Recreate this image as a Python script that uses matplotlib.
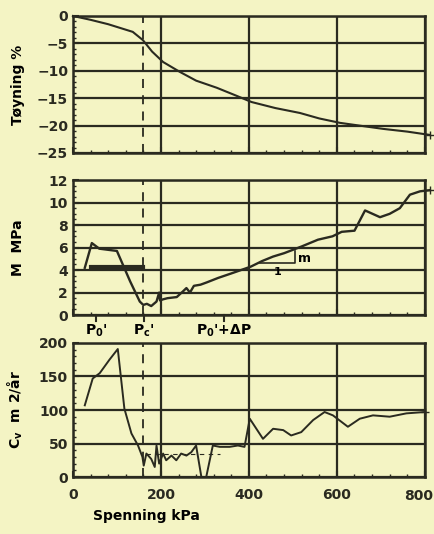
import numpy as np
import matplotlib
matplotlib.use("Agg")
import matplotlib.pyplot as plt
import matplotlib.transforms as mtransforms
from matplotlib.ticker import MultipleLocator

# toyning (strain) vs spenning
eps_x = [0, 40, 80, 120, 136, 159, 180, 205, 243, 280, 327, 370, 406, 460, 516, 560, 607, 660, 705, 760, 811]
eps_y = [0, -0.7, -1.5, -2.5, -2.9, -4.4, -6.5, -8.4, -10.2, -11.8, -13.1, -14.5, -15.7, -16.8, -17.7, -18.7, -19.5, -20.1, -20.6, -21.1, -21.7]

# modul M
m_x = [27, 43, 60, 100, 130, 152, 160, 168, 178, 190, 196, 198, 205, 215, 236, 250, 258, 266, 275, 290, 304, 330, 360,
       404, 430, 455, 480, 500, 520, 557, 590, 611, 640, 664, 698, 720, 743, 766, 789, 811]
m_y = [4.2, 6.4, 5.9, 5.7, 3.0, 1.2, 0.9, 1.0, 0.8, 1.2, 2.0, 1.3, 1.4, 1.5, 1.6, 2.1, 2.4, 2.0, 2.6, 2.7, 2.9, 3.3, 3.7,
       4.3, 4.8, 5.2, 5.5, 5.8, 6.1, 6.7, 7.0, 7.4, 7.5, 9.3, 8.7, 9.0, 9.5, 10.7, 11.0, 11.1]
m0_x = [40, 160]
m0_y = [4.3, 4.3]

# konsolideringskoeffisient cv
cv_x = [27, 45, 61, 83, 102, 117, 133, 148, 158, 161, 167, 178, 186, 190, 196, 205, 212, 224, 235, 246, 258, 269, 280,
        292, 303, 318, 334, 356, 375, 390, 402, 432, 455, 478, 496, 519, 546, 572, 591, 625, 652, 682, 720, 758, 800]
cv_y = [107, 147, 155, 175, 191, 102, 65, 47, 30, 17, 35, 27, 15, 47, 20, 35, 25, 32, 25, 35, 32, 37, 47,
        0, 0, 47, 45, 45, 47, 45, 87, 57, 72, 70, 62, 67, 85, 97, 92, 75, 87, 92, 90, 95, 97]

x_ticks = [0, 200, 400, 600, 800]
pc = 160
marks_x = [52, 161, 343]
marks_lbl = ["P$_0$'", "P$_c$'", "P$_0$'+$\\Delta$P"]

bg = "#f4f4c4"
ink = '#2a2a20'
plt.rcParams['font.family'] = 'DejaVu Sans'
plt.rcParams['font.weight'] = 'bold'
plt.rcParams['mathtext.default'] = 'bf'

fig = plt.figure(figsize=(4.34, 5.34), dpi=100, facecolor=bg)
ax1 = fig.add_axes([0.168, 0.7135, 0.811, 0.2566])
ax2 = fig.add_axes([0.168, 0.41, 0.811, 0.2528])
ax3 = fig.add_axes([0.168, 0.1067, 0.811, 0.251])

for ax in (ax1, ax2, ax3):
    ax.set_facecolor(bg)
    ax.set_xlim(0, 800)
    ax.set_xticks(x_ticks)
    ax.xaxis.set_minor_locator(MultipleLocator(40))
    ax.grid(True, which='major', color=ink, lw=1.6)
    ax.axvline(pc, color=ink, lw=1.3, ls=(0, (5, 4)))
    for s in ax.spines.values():
        s.set_linewidth(1.8)
        s.set_color(ink)
    ax.tick_params(which='both', direction='in', colors=ink, labelsize=10)
    ax.tick_params(which='major', length=4, width=1.5)
    ax.tick_params(which='minor', length=2.5, width=1)

ax1.plot(eps_x, eps_y, color=ink, lw=1.5, clip_on=False)
ax1.plot(eps_x[-1:], eps_y[-1:], '+', color=ink, ms=6, clip_on=False)
ax1.set_ylim(-25, 0)
ax1.set_yticks([-25, -20, -15, -10, -5, 0])
ax1.yaxis.set_minor_locator(MultipleLocator(1))
ax1.set_ylabel("Tøyning %", fontsize=10, fontweight='bold')
ax1.tick_params(labelbottom=False)

ax2.plot(m_x, m_y, color=ink, lw=1.7, clip_on=False)
ax2.plot(m0_x, m0_y, color=ink, lw=3)
ax2.plot(m_x[-1:], m_y[-1:], '+', color=ink, ms=6, clip_on=False)
# stigningstrekant
ax2.plot([425, 505, 505], [4.6, 4.6, 5.7], color=ink, lw=1.2)
ax2.text(512, 5.0, "m", fontsize=9, va='center')
ax2.text(465, 4.3, "1", fontsize=8, va='top', ha='center')
ax2.set_ylim(0, 12)
ax2.yaxis.set_major_locator(MultipleLocator(2))
ax2.yaxis.set_minor_locator(MultipleLocator(0.5))
ax2.set_ylabel("M  MPa", fontsize=10, fontweight='bold')
ax2.tick_params(labelbottom=False)
for xv, lbl in zip(marks_x, marks_lbl):
    ax2.plot([xv, xv], [0, -0.5], color=ink, lw=1.5, clip_on=False)
    ax2.text(xv, -0.7, lbl, fontsize=10, ha='center', va='top')

ax3.plot(cv_x, cv_y, color=ink, lw=1.4, clip_on=False)
ax3.plot(cv_x[-1:], cv_y[-1:], '+', color=ink, ms=6, clip_on=False)
ax3.plot([165, 335], [35, 35], color=ink, lw=0.8, ls=(0, (4, 4)))
ax3.set_ylim(0, 200)
ax3.yaxis.set_major_locator(MultipleLocator(50))
ax3.yaxis.set_minor_locator(MultipleLocator(10))
ax3.set_ylabel("C$_v$  m 2/år", fontsize=10, fontweight='bold')
ax3.set_xlabel("Spenning kPa", fontsize=10, fontweight='bold')
ax3.tick_params(axis='x', pad=8)
# last label pulled in a bit so it stays on the page
ax3.set_xticklabels([str(v) for v in x_ticks[:-1]] + [''])
tr = mtransforms.blended_transform_factory(ax3.transData, ax3.transAxes)
ax3.text(x_ticks[-1] - 14, -0.0, str(x_ticks[-1]), transform=tr, fontsize=10,
         ha='center', va='top', color=ink).set_transform(
    tr + mtransforms.ScaledTranslation(0, -12 / 100, fig.dpi_scale_trans))

for ax in (ax1, ax2, ax3):
    ax.yaxis.set_label_coords(-0.135, 0.5)
ax3.xaxis.set_label_coords(0.21, -0.24)

fig.savefig("out.png", dpi=100, facecolor=bg)
